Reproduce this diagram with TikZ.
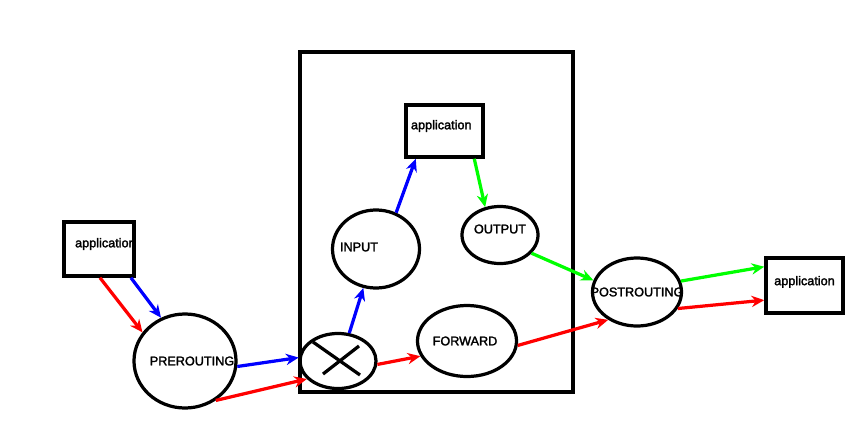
\documentclass[tikz,border=0pt]{standalone}
\usepackage{fontspec}
\setmainfont{Liberation Sans}
\newfontfamily\paintfont[FakeBold=2]{Liberation Sans}
\usetikzlibrary{arrows.meta,shapes.geometric,calc}
\tikzset{
  every node/.style={font=\paintfont\fontsize{9}{11}\selectfont},
  hook/.style={draw, ellipse, line width=2.3pt, inner sep=0pt},
  box/.style={draw, rectangle, line width=2.5pt, inner sep=0pt},
  flow/.style={line width=2.3pt, -{Stealth[length=9pt,width=8pt]}}
}
\begin{document}
\begin{tikzpicture}[x=0.025cm, y=-0.025cm]
\useasboundingbox[fill=white] (0,0) rectangle (859,434);
\node[box, minimum width=6.825cm, minimum height=8.5cm] (host) at (436.5,222) {};
\node[box, minimum width=1.75cm, minimum height=1.35cm, label={[xshift=0.16cm, yshift=0.125cm]center:application}] (appin) at (99,249) {};
\node[box, minimum width=1.925cm, minimum height=1.3cm, label={[xshift=-0.08cm, yshift=0.125cm]center:application}] (app) at (444.5,131) {};
\node[box, minimum width=1.925cm, minimum height=1.375cm, label={[yshift=0.09cm]center:application}] (appout) at (804.5,285.5) {};
\node[hook, minimum width=2.55cm, minimum height=2.35cm, label={[xshift=0.175cm]center:PREROUTING}] (pre) at (185,361) {};
\node[hook, minimum width=1.9cm, minimum height=1.375cm] (route) at (338,361) {};
\draw[line width=2.3pt] ($(route)+(-25,-19)$) -- ($(route)+(22,14)$);
\draw[line width=2.3pt] ($(route)+(21,-15)$) -- ($(route)+(-15,13)$);
\node[hook, minimum width=2.175cm, minimum height=1.95cm, label={[xshift=-0.425cm, yshift=0.05cm]center:INPUT}] (input) at (376,249) {};
\node[hook, minimum width=1.9cm, minimum height=1.425cm, label={[yshift=0.15cm]center:OUTPUT}] (output) at (500,235) {};
\node[hook, minimum width=2.475cm, minimum height=1.775cm, label={[xshift=-0.05cm]center:FORWARD}] (fwd) at (467,341) {};
\node[hook, minimum width=2.225cm, minimum height=1.7cm, label={center:POSTROUTING}] (post) at (637,292) {};
\draw[flow, red] (appin.-88) -- (pre.146);
\draw[flow, blue] (appin.-42) -- (pre.119);
\draw[flow, blue] (pre.-6) -- (route.175);
\draw[flow, red] (pre.-52) -- (route.210);
\draw[flow, blue] (route.68) -- (input.-108);
\draw[flow, blue] (input.61) -- (app.-136);
\draw[flow, green] (app.-43) -- (output.118);
\draw[flow, green] (output.-30) -- (post.165);
\draw[flow, red] (route.-5) -- (fwd.198);
\draw[flow, red] (fwd.-5) -- (post.-136);
\draw[flow, green] (post.14) -- (appout.155);
\draw[flow, red] (post.-22) -- (appout.200);
\end{tikzpicture}
\end{document}
